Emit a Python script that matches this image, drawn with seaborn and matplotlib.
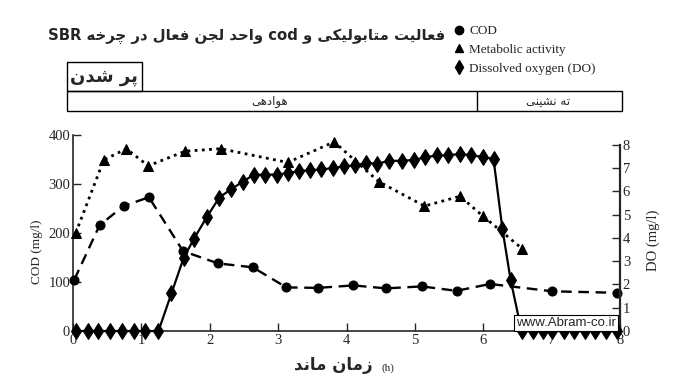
import matplotlib
matplotlib.use("Agg")
import matplotlib.pyplot as plt
from matplotlib.lines import Line2D
from matplotlib.patches import Rectangle
import seaborn as sns

# ---------------- data ----------------
cod_time = [0.02, 0.39, 0.74, 1.11, 1.61, 2.12, 2.63, 3.12, 3.58, 4.10, 4.58, 5.10, 5.61, 6.10, 7.01, 7.95]
cod_vals = [105, 216, 255, 273, 163, 138, 130, 89, 88, 93, 87, 91, 82, 96, 81, 78]

met_time = [0.04, 0.45, 0.78, 1.10, 1.64, 2.16, 3.14, 3.82, 4.47, 5.14, 5.66, 6.00, 6.57]
met_vals = [200, 349, 372, 337, 367, 372, 344, 386, 305, 255, 275, 234, 168]

do_time = [0.05, 0.22, 0.37, 0.54, 0.71, 0.89, 1.05, 1.25,
           1.44, 1.62, 1.77, 1.96, 2.14, 2.31, 2.48, 2.64, 2.81, 2.98, 3.14, 3.31,
           3.47, 3.63, 3.80, 3.97, 4.13, 4.29, 4.45, 4.62, 4.81, 4.99, 5.15, 5.32,
           5.48, 5.66, 5.82, 5.99, 6.15, 6.28, 6.40,
           6.56, 6.73, 6.88, 7.01, 7.18, 7.32, 7.49, 7.64, 7.80, 7.96]
do_vals = [0, 0, 0, 0, 0, 0, 0, 0,
           1.62, 3.16, 3.97, 4.92, 5.74, 6.10, 6.41, 6.72, 6.72, 6.73, 6.79, 6.88,
           6.91, 6.95, 7.00, 7.09, 7.12, 7.23, 7.19, 7.32, 7.32, 7.36, 7.47, 7.55,
           7.55, 7.62, 7.56, 7.49, 7.40, 4.40, 2.20,
           0, 0, 0, 0, 0, 0, 0, 0, 0, 0]

x_ticks = [0, 1, 2, 3, 4, 5, 6, 7, 8]
cod_ticks = [0, 100, 200, 300, 400]
do_ticks = [0, 1, 2, 3, 4, 5, 6, 7, 8]

title_text = "فعالیت متابولیکی و cod واحد لجن فعال در چرخه SBR"
fill_text = "پر شدن"
aer_text = "هوادهی"
settle_text = "ته نشینی"
xlabel_text = "زمان ماند"
legend_labels = ["COD", "Metabolic activity", "Dissolved oxygen (DO)"]

# ------------- Persian shaping (presentation forms, visual order) -------------
FORMS = {
    'ا': (0xFE8D, 0xFE8E), 'ب': (0xFE8F, 0xFE90, 0xFE91, 0xFE92),
    'پ': (0xFB56, 0xFB57, 0xFB58, 0xFB59), 'ت': (0xFE95, 0xFE96, 0xFE97, 0xFE98),
    'ج': (0xFE9D, 0xFE9E, 0xFE9F, 0xFEA0), 'چ': (0xFB7A, 0xFB7B, 0xFB7C, 0xFB7D),
    'ح': (0xFEA1, 0xFEA2, 0xFEA3, 0xFEA4), 'خ': (0xFEA5, 0xFEA6, 0xFEA7, 0xFEA8),
    'د': (0xFEA9, 0xFEAA), 'ر': (0xFEAD, 0xFEAE), 'ز': (0xFEAF, 0xFEB0),
    'ش': (0xFEB5, 0xFEB6, 0xFEB7, 0xFEB8), 'ع': (0xFEC9, 0xFECA, 0xFECB, 0xFECC),
    'ف': (0xFED1, 0xFED2, 0xFED3, 0xFED4), 'ک': (0xFB8E, 0xFB8F, 0xFB90, 0xFB91),
    'ل': (0xFEDD, 0xFEDE, 0xFEDF, 0xFEE0), 'م': (0xFEE1, 0xFEE2, 0xFEE3, 0xFEE4),
    'ن': (0xFEE5, 0xFEE6, 0xFEE7, 0xFEE8), 'ه': (0xFEE9, 0xFEEA, 0xFEEB, 0xFEEC),
    'و': (0xFEED, 0xFEEE), 'ی': (0xFBFC, 0xFBFD, 0xFBFE, 0xFBFF),
}


def shape_word(w):
    out = []
    n = len(w)
    for i, c in enumerate(w):
        f = FORMS.get(c)
        if f is None:
            out.append(c)
            continue
        prev = w[i - 1] if i > 0 else None
        nxt = w[i + 1] if i < n - 1 else None
        jp = prev in FORMS and len(FORMS[prev]) == 4
        jn = (nxt in FORMS) and len(f) == 4
        idx = 3 if (jp and jn) else 1 if jp else 2 if jn else 0
        out.append(chr(f[idx]))
    return ''.join(reversed(out))


def visual(s):
    toks = s.split(' ')
    toks = [shape_word(t) if any(ch in FORMS for ch in t) else t for t in toks]
    return ' '.join(reversed(toks))


# ---------------- style ----------------
sns.set_style("ticks")
plt.rcParams['font.family'] = ['Liberation Serif', 'DejaVu Serif']
plt.rcParams['axes.linewidth'] = 1.2

W, H = 700, 382
fig = plt.figure(figsize=(7.0, 3.82), dpi=100)
ax = fig.add_axes([73 / W, (H - 331) / H, (620 - 73) / W, 196 / H])
ax.set_facecolor('white')
ax2 = ax.twinx()

# COD (dashed, circles)
sns.lineplot(x=cod_time, y=cod_vals, ax=ax, color='black', marker='o', markersize=6.5,
             markeredgecolor='black', linewidth=1.7, linestyle=(0, (4.5, 2.8)),
             estimator=None, clip_on=False, zorder=3)
# Metabolic activity (dotted, triangles)
sns.lineplot(x=met_time, y=met_vals, ax=ax, color='black', marker='^', markersize=7,
             markeredgecolor='black', linewidth=2.0, linestyle=(0, (1.0, 1.6)),
             estimator=None, clip_on=False, zorder=3)
# DO (solid, diamonds) on right axis
sns.lineplot(x=do_time, y=do_vals, ax=ax2, color='black', marker='d', markersize=8.5,
             markeredgecolor='black', linewidth=1.6, estimator=None, clip_on=False, zorder=3)

ax.set_xlim(0, 8)
ax.set_ylim(0, 400)
ax2.set_ylim(0, 8.43)
ax.set_xticks(x_ticks)
ax.set_yticks(cod_ticks)
ax2.set_yticks(do_ticks)
ax.set_xticklabels([str(t) for t in x_ticks])
ax.set_yticklabels([str(t) for t in cod_ticks])
ax2.set_yticklabels([str(t) for t in do_ticks])

for a in (ax, ax2):
    a.spines['top'].set_visible(False)
    a.set_xlabel('')
    a.set_ylabel('')
ax.spines['right'].set_visible(False)
ax2.spines['left'].set_visible(False)
ax2.spines['bottom'].set_visible(False)
ax.spines['left'].set_bounds(0, 400)
ax2.spines['right'].set_bounds(0, 8)
ax2.spines['right'].set_linewidth(1.6)

ax.tick_params(axis='both', direction='in', length=6, width=1, labelsize=10.5, pad=2)
ax2.tick_params(axis='y', direction='in', length=6, width=1, labelsize=10.5, pad=2)

# axis labels
fig.text(37 / W, 1 - 252 / H, "COD (mg/l)", rotation=90, ha='center', va='center',
         fontsize=9.5, family=['Liberation Serif'])
fig.text(653 / W, 1 - 240 / H, "DO (mg/l)", rotation=90, ha='center', va='center',
         fontsize=10.5, family=['Liberation Serif'])
fig.text(333 / W, 1 - 365 / H, visual(xlabel_text), ha='center', va='center',
         fontsize=12, fontweight='bold', family=['DejaVu Sans'])
fig.text(388 / W, 1 - 368 / H, "(h)", ha='center', va='center', fontsize=8,
         family=['Liberation Serif'])

# title
fig.text(48 / W, 1 - 36 / H, visual(title_text), ha='left', va='center',
         fontsize=10.7, fontweight='bold', family=['DejaVu Sans'])

# legend
handles = [Line2D([], [], color='black', marker='o', linestyle='none', markersize=6),
           Line2D([], [], color='black', marker='^', linestyle='none', markersize=6),
           Line2D([], [], color='black', marker='d', linestyle='none', markersize=7.5)]
fig.legend(handles, legend_labels, loc='upper left', bbox_to_anchor=(452 / W, 1 - 25 / H),
           frameon=False, prop={'family': 'Liberation Serif', 'size': 9.5},
           handletextpad=0.3, labelspacing=0.5, handlelength=1.0,
           borderaxespad=0, borderpad=0)

# phase boxes
fig.add_artist(Rectangle((67 / W, 1 - 91 / H), 75 / W, 29 / H, transform=fig.transFigure,
                         fill=False, edgecolor='black', lw=1.0))
fig.add_artist(Rectangle((67 / W, 1 - 111 / H), (622 - 67) / W, 20 / H, transform=fig.transFigure,
                         fill=False, edgecolor='black', lw=1.0))
fig.add_artist(Line2D([477 / W, 477 / W], [1 - 111 / H, 1 - 91 / H], transform=fig.transFigure,
                      color='black', lw=1.0))
fig.text(104 / W, 1 - 77 / H, visual(fill_text), ha='center', va='center', fontsize=13,
         fontweight='bold', family=['DejaVu Sans'])
fig.text(270 / W, 1 - 102 / H, visual(aer_text), ha='center', va='center', fontsize=8.5,
         family=['DejaVu Sans'])
fig.text(548 / W, 1 - 102 / H, visual(settle_text), ha='center', va='center', fontsize=8.5,
         family=['DejaVu Sans'])

# watermark
fig.text(566 / W, 1 - 323 / H, "www.Abram-co.ir", ha='center', va='center', fontsize=9.5,
         family=['Liberation Sans'], zorder=5,
         bbox=dict(boxstyle='square,pad=0.15', facecolor='white', edgecolor='black', lw=0.8))

fig.savefig("out.png", dpi=100, facecolor='white')
